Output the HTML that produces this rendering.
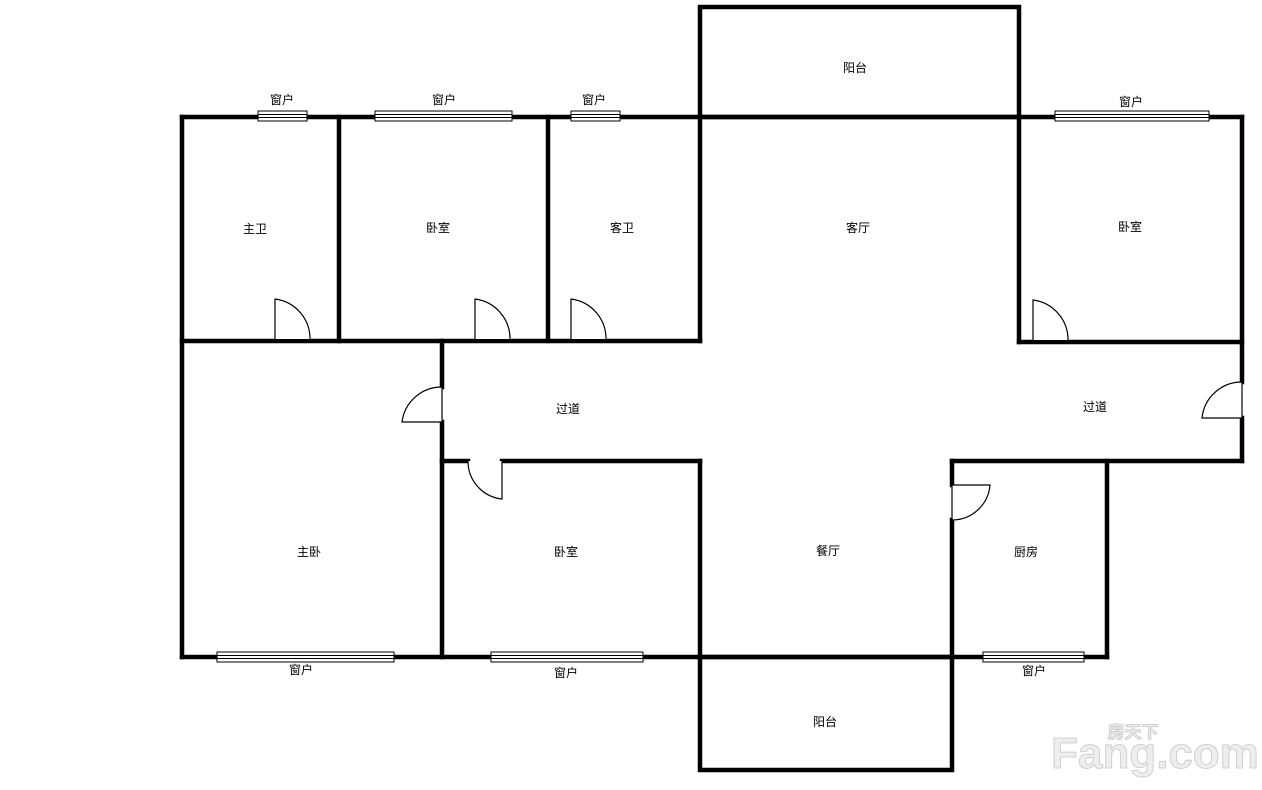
<!DOCTYPE html>
<html><head><meta charset="utf-8"><style>
html,body{margin:0;padding:0;background:#fff;}
svg{display:block}
text{font-family:"Liberation Sans","Noto Sans CJK SC",sans-serif;font-size:12px;fill:#000;text-anchor:middle}
</style></head><body>
<svg width="1262" height="790" viewBox="0 0 1262 790" xmlns="http://www.w3.org/2000/svg">
<g stroke="#000" stroke-width="4.5" fill="none" stroke-linecap="square">
<rect x="700" y="7" width="319" height="110"/>
<line x1="182" y1="117" x2="1242" y2="117"/>
<line x1="182" y1="117" x2="182" y2="657"/>
<line x1="339" y1="117" x2="339" y2="341"/>
<line x1="548" y1="117" x2="548" y2="341"/>
<line x1="700" y1="117" x2="700" y2="341"/>
<line x1="182" y1="341" x2="700" y2="341"/>
<line x1="1019" y1="117" x2="1019" y2="342"/>
<line x1="1019" y1="342" x2="1242" y2="342"/>
<line x1="1242" y1="117" x2="1242" y2="382"/>
<line x1="1242" y1="418" x2="1242" y2="461"/>
<line x1="442" y1="341" x2="442" y2="387"/>
<line x1="442" y1="422" x2="442" y2="657"/>
<line x1="442" y1="461" x2="468" y2="461"/>
<line x1="502" y1="461" x2="700" y2="461"/>
<line x1="700" y1="461" x2="700" y2="657"/>
<line x1="952" y1="461" x2="1242" y2="461"/>
<line x1="952" y1="461" x2="952" y2="485"/>
<line x1="952" y1="520" x2="952" y2="657"/>
<line x1="1107" y1="461" x2="1107" y2="657"/>
<line x1="182" y1="657" x2="1107" y2="657"/>
<rect x="700" y="657" width="252" height="113"/>
</g>
<g stroke="#000" stroke-width="1.2" fill="#fff">
<path d="M275 339 V299 A40 40 0 0 1 310 339"/>
<path d="M475 339 V299 A40 40 0 0 1 510 339"/>
<path d="M571 339 V299 A40 40 0 0 1 606 339"/>
<path d="M1033 340 V300 A40 40 0 0 1 1068 340"/>
<path d="M442 387 V422 H402 A40 40 0 0 1 442 387"/>
<path d="M502 461 V499 A38 38 0 0 1 468 461"/>
<path d="M952 520 V485 H990 A38 38 0 0 1 952 520"/>
<path d="M1242 382 V418 H1202 A40 40 0 0 1 1242 382"/>
</g>
<g stroke="#000" stroke-width="1" fill="#fff">
<rect x="258" y="111" width="49" height="10"/><line x1="258" y1="114.5" x2="307" y2="114.5"/><line x1="258" y1="117.5" x2="307" y2="117.5"/>
<rect x="375" y="111" width="137" height="10"/><line x1="375" y1="114.5" x2="512" y2="114.5"/><line x1="375" y1="117.5" x2="512" y2="117.5"/>
<rect x="571" y="111" width="49" height="10"/><line x1="571" y1="114.5" x2="620" y2="114.5"/><line x1="571" y1="117.5" x2="620" y2="117.5"/>
<rect x="1055" y="111" width="154" height="10"/><line x1="1055" y1="114.5" x2="1209" y2="114.5"/><line x1="1055" y1="117.5" x2="1209" y2="117.5"/>
<rect x="217" y="652" width="177" height="10"/><line x1="217" y1="655.5" x2="394" y2="655.5"/><line x1="217" y1="658.5" x2="394" y2="658.5"/>
<rect x="491" y="652" width="152" height="10"/><line x1="491" y1="655.5" x2="643" y2="655.5"/><line x1="491" y1="658.5" x2="643" y2="658.5"/>
<rect x="983" y="652" width="101" height="10"/><line x1="983" y1="655.5" x2="1084" y2="655.5"/><line x1="983" y1="658.5" x2="1084" y2="658.5"/>
</g>
<text x="282" y="104">窗户</text>
<text x="444" y="104">窗户</text>
<text x="594" y="104">窗户</text>
<text x="1131" y="106">窗户</text>
<text x="301" y="674">窗户</text>
<text x="566" y="677">窗户</text>
<text x="1034" y="675">窗户</text>
<text x="855" y="72">阳台</text>
<text x="255" y="233">主卫</text>
<text x="438" y="232">卧室</text>
<text x="622" y="232">客卫</text>
<text x="858" y="232">客厅</text>
<text x="1130" y="231">卧室</text>
<text x="568" y="413">过道</text>
<text x="1095" y="411">过道</text>
<text x="309" y="556">主卧</text>
<text x="566" y="556">卧室</text>
<text x="828" y="555">餐厅</text>
<text x="1026" y="556">厨房</text>
<text x="825" y="726">阳台</text>
<g font-family="Liberation Sans, sans-serif" font-weight="bold" stroke="#d0d0d0" stroke-width="1">
<text x="1155" y="768" style="font-size:44px;fill:#eee">Fang.com</text>
<text x="1133" y="738" style="font-size:17px;fill:#eee">房天下</text>
</g>
</svg>
</body></html>
